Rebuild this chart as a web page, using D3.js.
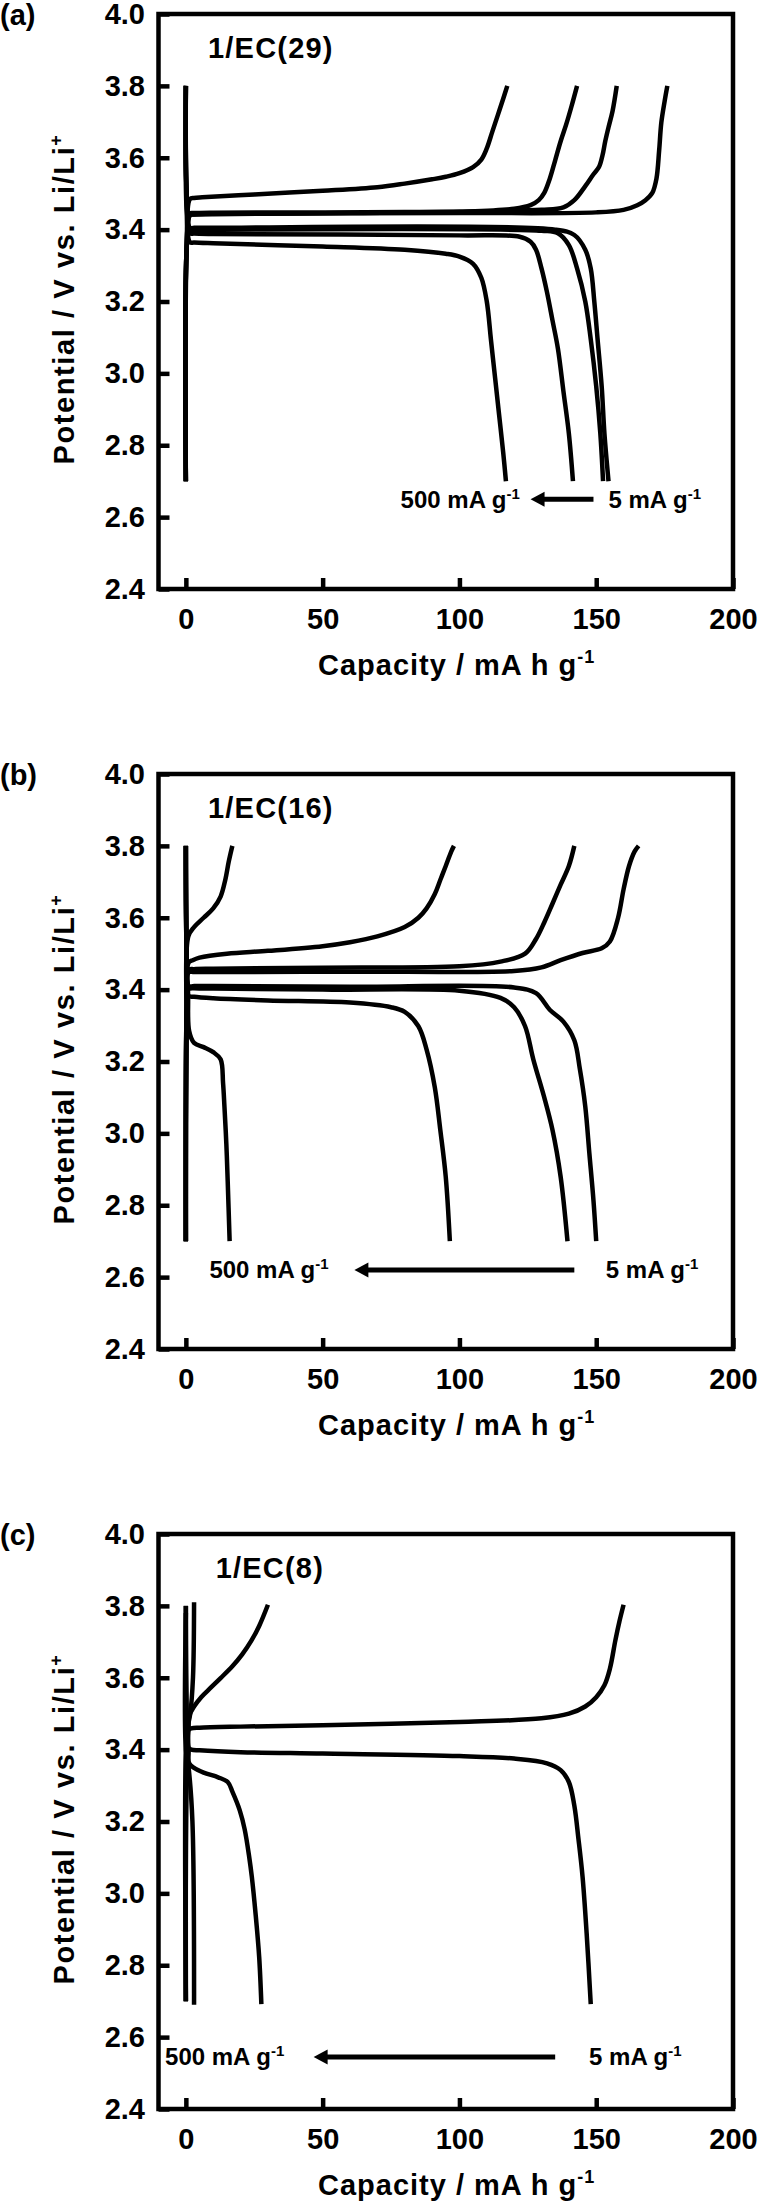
<!DOCTYPE html>
<html>
<head>
<meta charset="utf-8">
<script src="https://cdn.jsdelivr.net/npm/d3@7"></script>
<style>
  body { margin: 0; background: #fff; }
  text { font-family: "Liberation Sans", Arial, sans-serif; font-weight: bold; fill: #000; }
</style>
</head>
<body>
<div id="chart"></div>
<script>
// axis ticks and labels
var xTicks = [0, 50, 100, 150, 200];
var yTicks = [2.4, 2.6, 2.8, 3.0, 3.2, 3.4, 3.6, 3.8, 4.0];
var panelLabels = ["(a)", "(b)", "(c)"];
var sampleNames = ["1/EC(29)", "1/EC(16)", "1/EC(8)"];
var rateLabels = ["500 mA g", "5 mA g"];

// (a) 1/EC(29) : [capacity, potential]
var aCharge1 = [[0,2.7],[0.3,3.35],[1.5,3.485],[3,3.488],[6,3.49],[25,3.498],[50,3.508],[70,3.518],[80,3.528],[90,3.54],[95,3.547],[100,3.557],[105,3.574],[108,3.595],[110,3.626],[112,3.672],[114,3.718],[116,3.764],[117.5,3.8]];
var aCharge2 = [[0,2.7],[0.3,3.35],[1.5,3.44],[3,3.442],[10,3.443],[60,3.446],[100,3.45],[120,3.458],[126,3.468],[129,3.482],[131,3.502],[133,3.541],[135,3.593],[137,3.646],[139,3.692],[141,3.744],[143,3.8]];
var aCharge3 = [[0,2.7],[0.3,3.35],[1.5,3.445],[3,3.446],[10,3.447],[80,3.449],[130,3.455],[138,3.462],[142,3.482],[146,3.521],[149,3.554],[151,3.574],[152.3,3.607],[153.3,3.646],[154.5,3.685],[156,3.731],[157.5,3.8]];
var aCharge4 = [[0,2.7],[0.3,3.35],[1.5,3.44],[3,3.442],[10,3.444],[100,3.446],[150,3.448],[160,3.455],[165,3.468],[168,3.482],[170.5,3.502],[172,3.541],[173,3.62],[173.8,3.698],[175,3.757],[176,3.8]];
var aDischarge1 = [[0,3.8],[0.3,3.45],[1.5,3.365],[3,3.364],[10,3.362],[50,3.353],[80,3.344],[95,3.333],[100,3.325],[105,3.305],[108,3.266],[110,3.2],[111.5,3.095],[113,2.99],[114.5,2.885],[116,2.78],[117,2.7]];
var aDischarge2 = [[0,3.8],[0.3,3.5],[1.5,3.39],[3,3.389],[10,3.388],[100,3.384],[122,3.38],[126,3.366],[128,3.344],[130,3.292],[132,3.226],[134,3.148],[136,3.069],[138,2.951],[140,2.833],[141.5,2.7]];
var aDischarge3 = [[0,3.8],[0.3,3.5],[1.5,3.4],[3,3.4],[10,3.4],[130,3.397],[136,3.39],[140,3.357],[143,3.292],[146,3.2],[148,3.095],[150,2.964],[151.5,2.833],[152.5,2.7]];
var aDischarge4 = [[0,3.8],[0.3,3.5],[1.5,3.405],[3,3.405],[10,3.405],[135,3.4],[142,3.385],[146,3.344],[148,3.292],[149.3,3.2],[150.5,3.095],[152,2.964],[153,2.833],[154.5,2.7]];

// (b) 1/EC(16)
var bCharge1 = [[0,2.7],[0.3,3.3],[0.9,3.548],[3,3.574],[6.5,3.6],[10,3.626],[12.7,3.659],[14.4,3.705],[15.7,3.757],[17,3.8]];
var bCharge2 = [[0,2.7],[0.3,3.35],[1,3.475],[2.5,3.482],[5,3.489],[15,3.5],[30,3.508],[50,3.521],[60,3.532],[70,3.548],[80,3.574],[85,3.6],[88,3.626],[91,3.666],[93,3.705],[95,3.744],[97,3.784],[98,3.8]];
var bCharge3 = [[0,2.7],[0.3,3.35],[1,3.455],[3,3.457],[10,3.458],[50,3.461],[100,3.465],[115,3.478],[124,3.5],[128,3.541],[131,3.587],[134,3.639],[137,3.692],[140,3.744],[142,3.8]];
var bCharge4 = [[0,2.7],[0.3,3.35],[1,3.448],[3,3.449],[10,3.449],[60,3.45],[120,3.452],[130,3.462],[137,3.482],[145,3.502],[152,3.515],[155,3.534],[158,3.6],[160,3.679],[162,3.744],[164,3.784],[165.5,3.8]];
var bDischarge1 = [[0,3.8],[0.3,3.5],[0.8,3.39],[1.2,3.285],[3,3.252],[6.5,3.24],[10,3.226],[12.7,3.206],[13.6,3.14],[14.1,3.075],[14.8,2.97],[15.3,2.866],[16,2.7]];
var bDischarge2 = [[0,3.8],[0.3,3.5],[1,3.383],[3,3.38],[10,3.376],[30,3.37],[60,3.364],[75,3.351],[80,3.338],[85,3.298],[88,3.233],[91,3.128],[93,3.01],[95,2.879],[96.5,2.7]];
var bDischarge3 = [[0,3.8],[0.3,3.5],[1,3.405],[3,3.404],[10,3.403],[50,3.4],[100,3.397],[115,3.377],[120,3.351],[124,3.298],[127,3.206],[131,3.1],[134,3.01],[137,2.879],[139.5,2.7]];
var bDischarge4 = [[0,3.8],[0.3,3.5],[1,3.41],[3,3.41],[10,3.41],[60,3.408],[120,3.406],[128,3.39],[133,3.344],[138,3.311],[142,3.259],[144,3.18],[146,3.075],[147.5,2.944],[149,2.813],[150,2.7]];

// (c) 1/EC(8)
var cCharge1 = [[0,2.7],[0.3,3.35],[1,3.455],[2,3.459],[5,3.461],[20,3.464],[50,3.468],[100,3.477],[130,3.487],[140,3.5],[146,3.52],[150,3.546],[153,3.579],[155,3.625],[157,3.704],[158.5,3.757],[160,3.803]];
var cCharge2 = [[0,2.7],[0.3,3.35],[1,3.46],[1.2,3.494],[3,3.52],[5.6,3.546],[9.2,3.573],[12.7,3.599],[17,3.632],[20.6,3.665],[24,3.704],[26.8,3.744],[30,3.803]];
var cCharge3 = [[0,2.7],[0,3.4],[0.6,3.46],[1.6,3.5],[2.6,3.6],[3,3.81]];
var cDischarge1 = [[0,3.8],[0.3,3.5],[1,3.405],[2,3.4],[5,3.398],[20,3.393],[50,3.389],[100,3.382],[120,3.375],[132,3.362],[137,3.343],[140,3.31],[142,3.244],[143.5,3.152],[145,3.047],[146.5,2.889],[148,2.692]];
var cDischarge2 = [[0,3.8],[0.3,3.5],[1,3.4],[1.2,3.362],[3,3.349],[6.5,3.336],[11.8,3.323],[15.3,3.31],[17,3.283],[19.7,3.231],[21.5,3.178],[23.2,3.099],[24.1,3.047],[25.5,2.942],[26.8,2.823],[27.6,2.692]];
var cDischarge3 = [[0,3.78],[0,3.4],[1,3.35],[2.4,3.2],[3,2.69]];

var svgWidth = 759;
var svgHeight = 2202;
var margin = {top: 14, left: 158.5};
var width = 574.5;
var height = 575;
var panelStep = 760;

// annotation placement per panel, in data units
var panels = [
  {curves: [aCharge1, aCharge2, aCharge3, aCharge4, aDischarge1, aDischarge2, aDischarge3, aDischarge4],
   nameX: 8.1, rateV: 2.65, fastX: 78.5, slowX: 154.5, arrowFrom: 149, arrowTo: 126},
  {curves: [bCharge1, bCharge2, bCharge3, bCharge4, bDischarge1, bDischarge2, bDischarge3, bDischarge4],
   nameX: 8.1, rateV: 2.62, fastX: 8.6, slowX: 153.5, arrowFrom: 142, arrowTo: 61.6},
  {curves: [cCharge1, cCharge2, cCharge3, cDischarge1, cDischarge2, cDischarge3],
   nameX: 10.9, rateV: 2.545, fastX: -7.6, slowX: 147.4, arrowFrom: 135, arrowTo: 46.7}
];

var svg = d3.select("#chart")
    .append("svg")
    .attr("width", svgWidth)
    .attr("height", svgHeight);

var xScale = d3.scaleLinear().domain([-10, 200]).range([0, width]);
var yScale = d3.scaleLinear().domain([2.4, 4.0]).range([height, 0]);

var line = d3.line()
    .x(d => xScale(d[0]))
    .y(d => yScale(d[1]))
    .curve(d3.curveCatmullRom.alpha(0.5));

function addSup(textSel, main, sup, supSize, shift) {
    textSel.append("tspan").text(main);
    textSel.append("tspan").attr("font-size", supSize).attr("dy", shift).text(sup);
}

panels.forEach(function (p, i) {
    var g = svg.append("g")
        .attr("transform", `translate(${margin.left}, ${margin.top + i * panelStep})`);

    // curves
    g.selectAll("path.curve")
        .data(p.curves)
        .enter()
        .append("path")
        .attr("class", "curve")
        .attr("d", line)
        .attr("fill", "none")
        .attr("stroke", "#000")
        .attr("stroke-width", 4.5)
        .attr("stroke-linejoin", "round");

    // axes, ticks pointing inward
    var bottomAxis = d3.axisBottom(xScale).tickValues(xTicks).tickSizeInner(-11).tickSizeOuter(0).tickPadding(19);
    var leftAxis = d3.axisLeft(yScale).tickValues(yTicks).tickFormat(d3.format(".1f")).tickSizeInner(-11).tickSizeOuter(0).tickPadding(13.5);

    var xg = g.append("g").attr("transform", `translate(0, ${height})`).call(bottomAxis);
    var yg = g.append("g").call(leftAxis);
    [xg, yg].forEach(function (ax) {
        ax.select(".domain").remove();
        ax.selectAll("line").attr("stroke", "#000").attr("stroke-width", 4.5);
        ax.selectAll("text")
            .attr("font-size", 29)
            .attr("font-family", "'Liberation Sans', Arial, sans-serif")
            .attr("font-weight", "bold")
            .attr("fill", "#000");
    });

    // frame
    g.append("rect")
        .attr("width", width)
        .attr("height", height)
        .attr("fill", "none")
        .attr("stroke", "#000")
        .attr("stroke-width", 4.5);

    // panel letter
    g.append("text")
        .attr("x", -margin.left)
        .attr("y", 11)
        .attr("font-size", 29)
        .text(panelLabels[i]);

    // sample name
    g.append("text")
        .attr("x", xScale(p.nameX))
        .attr("y", 44)
        .attr("font-size", 29)
        .attr("letter-spacing", 1.2)
        .text(sampleNames[i]);

    // rate annotation with arrow
    var ry = yScale(p.rateV);
    var fast = g.append("text")
        .attr("x", xScale(p.fastX))
        .attr("y", ry + 8.5)
        .attr("font-size", 24);
    addSup(fast, rateLabels[0], "-1", 15, -9);

    var slow = g.append("text")
        .attr("x", xScale(p.slowX))
        .attr("y", ry + 8.5)
        .attr("font-size", 24);
    addSup(slow, rateLabels[1], "-1", 15, -9);

    var tip = xScale(p.arrowTo);
    g.append("line")
        .attr("x1", xScale(p.arrowFrom))
        .attr("x2", tip + 10)
        .attr("y1", ry)
        .attr("y2", ry)
        .attr("stroke", "#000")
        .attr("stroke-width", 5);
    g.append("path")
        .attr("d", `M${tip},${ry}L${tip + 14},${ry - 7.5}L${tip + 14},${ry + 7.5}Z`)
        .attr("fill", "#000");

    // axis titles
    var xt = g.append("text")
        .attr("x", 318 - margin.left)
        .attr("y", height + 86)
        .attr("font-size", 29)
        .attr("letter-spacing", 1);
    addSup(xt, "Capacity / mA h g", "-1", 18, -12);

    var yt = g.append("text")
        .attr("transform", `translate(${74 - margin.left}, ${height / 2 - 2.5}) rotate(-90)`)
        .attr("text-anchor", "middle")
        .attr("font-size", 29)
        .attr("letter-spacing", 1.6);
    addSup(yt, "Potential / V vs. Li/Li", "+", 18, -12);
});
</script>
</body>
</html>
